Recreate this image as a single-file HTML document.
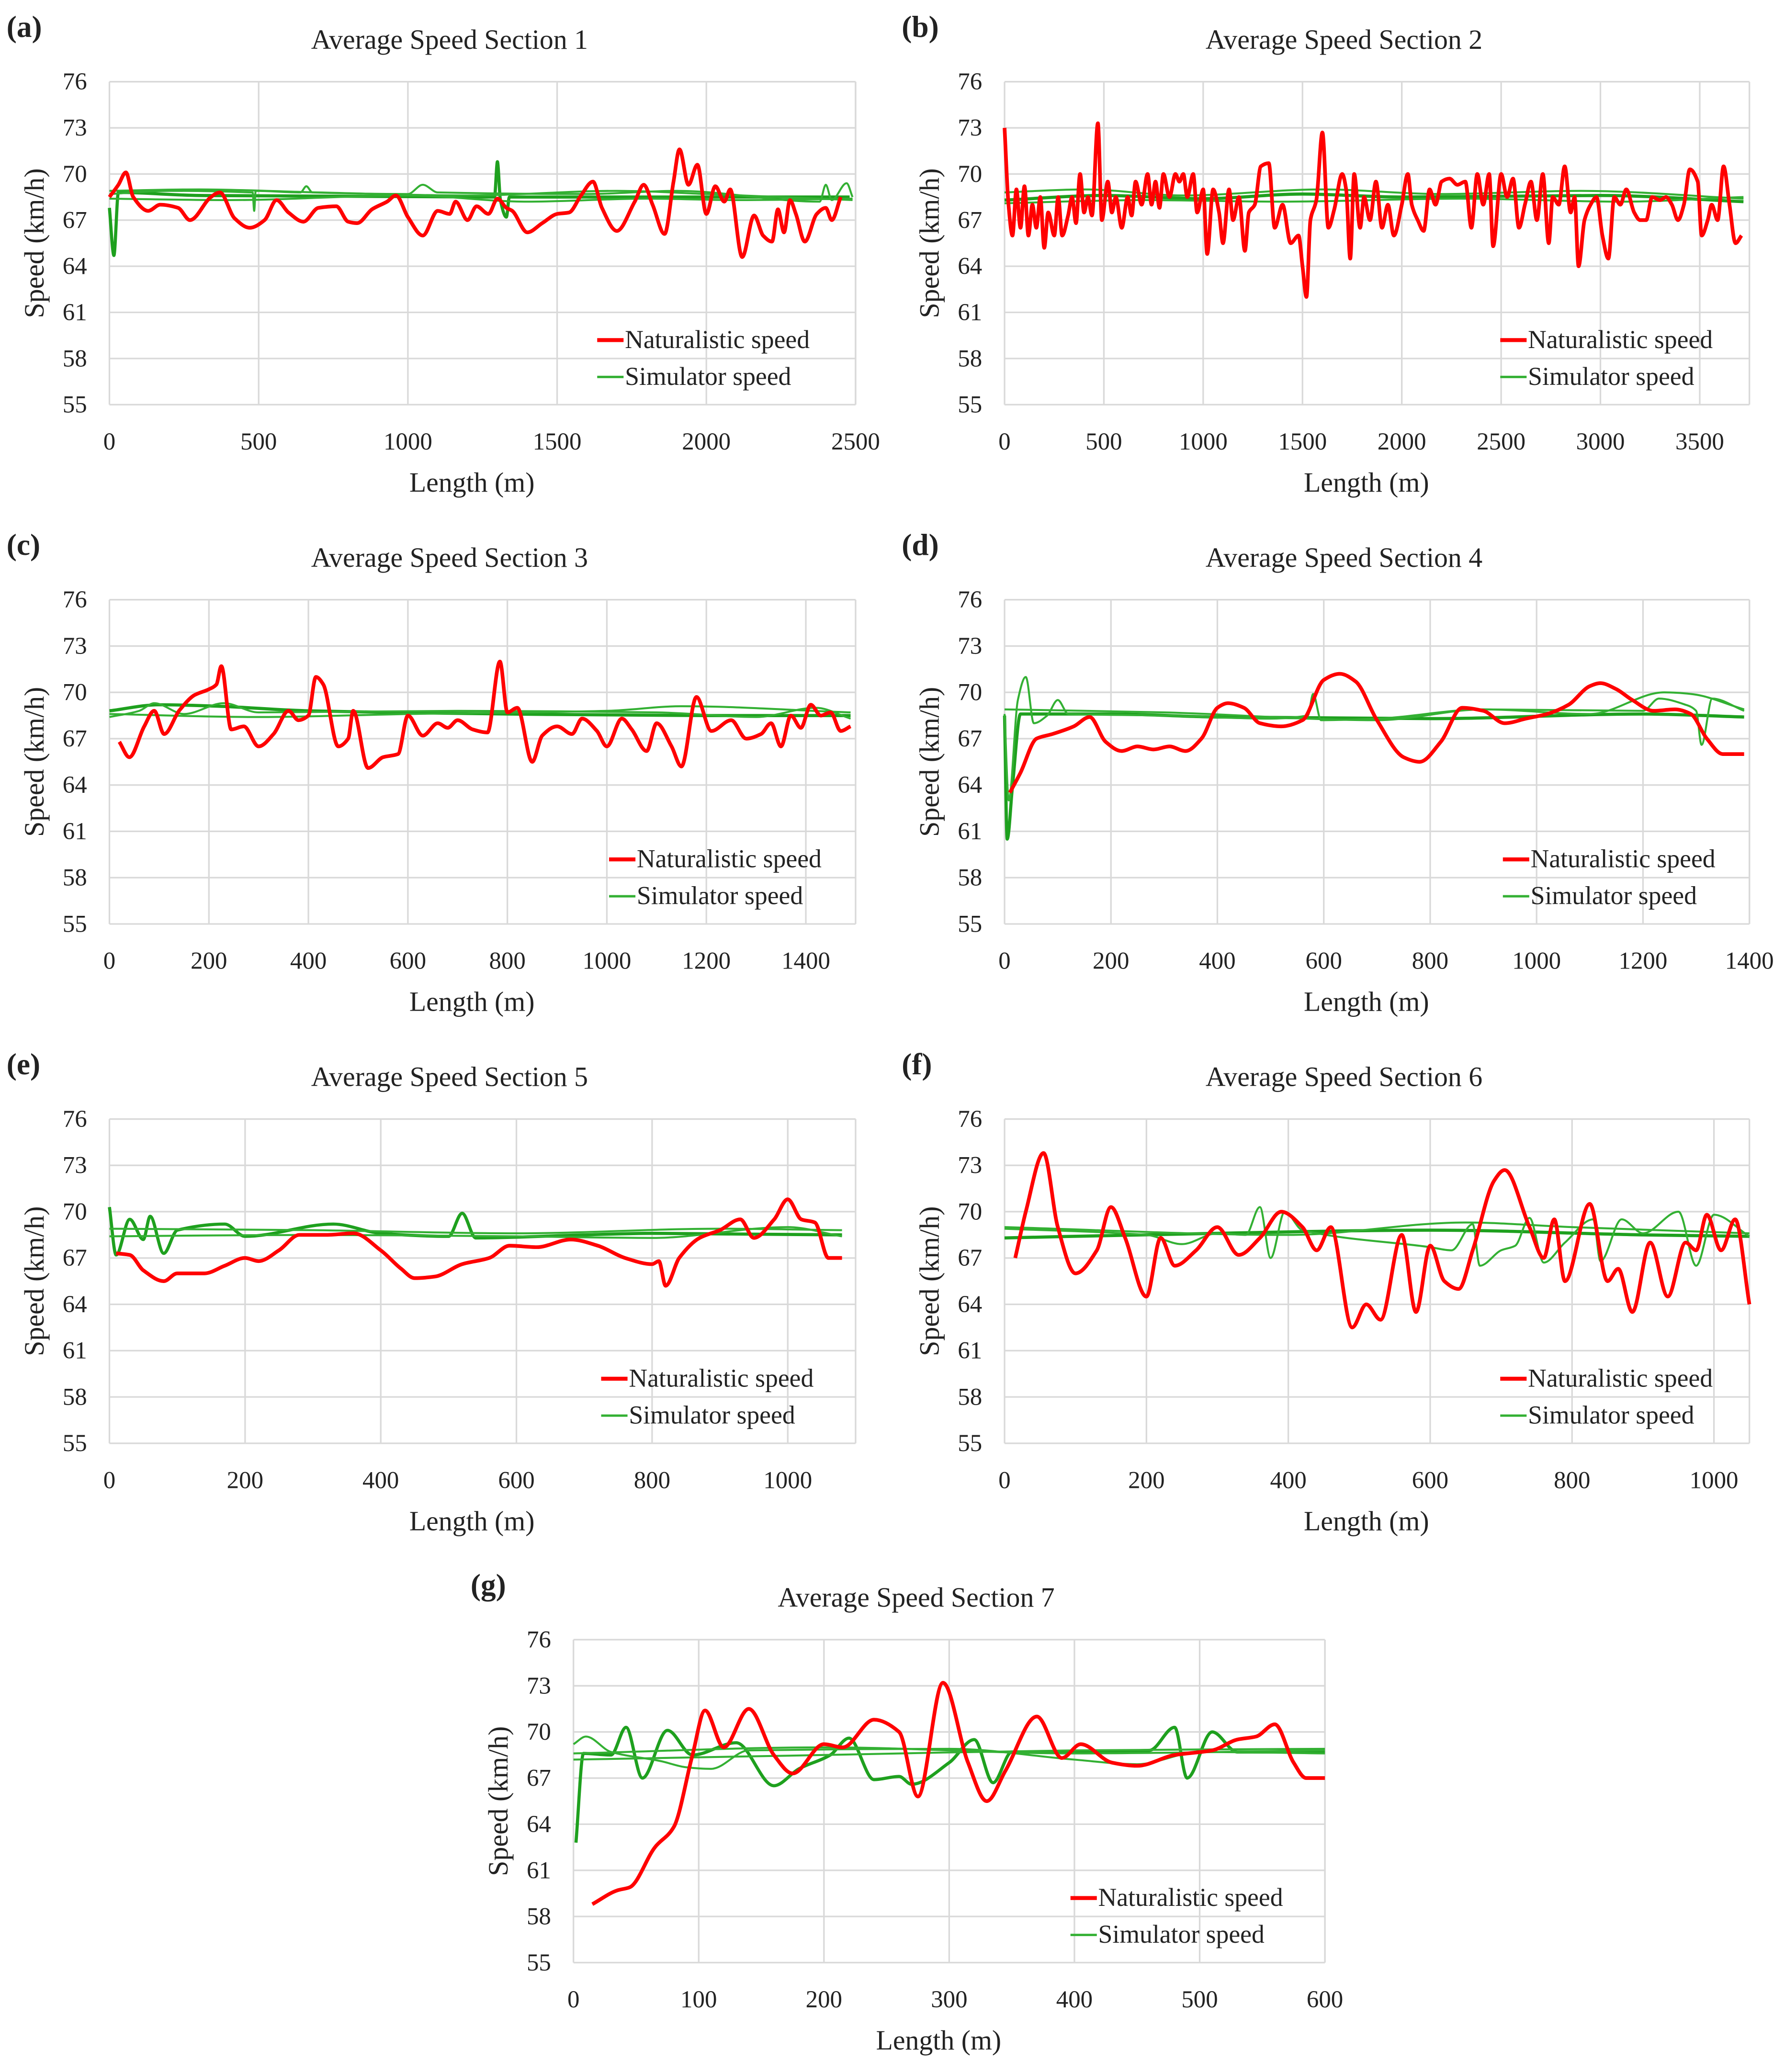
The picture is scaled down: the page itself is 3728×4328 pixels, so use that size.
<!DOCTYPE html>
<html><head><meta charset="utf-8"><style>
html,body{margin:0;padding:0;background:#fff;}
svg{display:block;}
text{font-family:"Liberation Serif",serif;fill:#222;}
</style></head><body>
<svg id="fig" width="3728" height="4328" viewBox="0 0 1354 1572" preserveAspectRatio="none"></svg>
<script>
// ---- data (x in m, y in km/h) ----
const yTicks=[55,58,61,64,67,70,73,76];
const ticksA=[0,500,1000,1500,2000,2500];
const ticksB=[0,500,1000,1500,2000,2500,3000,3500];
const ticksC=[0,200,400,600,800,1000,1200,1400];
const ticksD=[0,200,400,600,800,1000,1200,1400];
const ticksE=[0,200,400,600,800,1000];
const ticksF=[0,200,400,600,800,1000];
const ticksG=[0,100,200,300,400,500,600];

const natA=[[0,68.5],[30,69.3],[55,70.1],[80,68.5],[130,67.6],[170,68.0],[230,67.8],[270,67.0],[340,68.5],[370,68.8],[420,67.1],[470,66.5],[520,67.0],[560,68.3],[600,67.5],[650,66.9],[700,67.8],[760,67.9],[800,66.9],[830,66.8],[880,67.7],[930,68.2],[960,68.6],[1000,67.2],[1050,66.0],[1100,67.6],[1140,67.4],[1160,68.2],[1200,67.0],[1230,67.9],[1270,67.4],[1300,68.4],[1330,67.8],[1350,67.6],[1400,66.2],[1450,66.8],[1500,67.4],[1540,67.5],[1580,68.6],[1620,69.5],[1650,67.8],[1700,66.3],[1760,68.2],[1790,69.3],[1820,68.0],[1860,66.1],[1890,69.5],[1910,71.6],[1940,69.3],[1970,70.6],[2000,67.4],[2030,69.2],[2060,68.2],[2080,69.0],[2120,64.6],[2160,67.3],[2190,66.0],[2220,65.6],[2240,67.7],[2260,66.2],[2280,68.3],[2300,67.4],[2330,65.6],[2370,67.4],[2400,67.8],[2420,67.0],[2450,68.5]];
const simA1=[[0,67.8],[15,64.7],[30,68.8],[300,68.6],[1290,68.5],[1300,70.8],[1310,68.3],[1330,67.2],[1340,68.5],[2480,68.5]];
const simA2=[[0,68.7],[200,68.9],[480,68.8],[485,67.6],[490,68.9],[640,68.8],[660,69.2],[680,68.8],[1000,68.7],[1050,69.3],[1100,68.8],[1600,68.7],[1900,68.9],[2380,68.2],[2400,69.3],[2420,68.3],[2470,69.4],[2490,68.5]];
const simA3=[[0,68.4],[400,68.3],[1000,68.6],[1400,68.2],[1800,68.4],[2100,68.3],[2490,68.4]];
const simA4=[[0,68.9],[300,69.0],[700,68.8],[1200,68.6],[1700,68.9],[2000,68.7],[2490,68.3]];

const natB=[[0,73],[20,68],[40,66],[60,69],[80,66.5],[100,69.2],[120,66],[140,68],[160,66.5],[180,68.5],[200,65.2],[220,67.5],[250,66],[270,68.5],[290,66],[320,67.3],[340,68.5],[360,66.8],[380,70],[400,67.5],[420,68.5],[440,67.3],[470,73.3],[490,67],[520,69.5],[540,67.5],[560,68.5],[590,66.5],[620,68.5],[640,67.3],[660,69.5],[690,68],[720,70],[740,68],[760,69.5],[780,67.8],[800,70],[830,68.5],[860,70],[880,69.5],[900,70],[920,68.5],[950,70],[970,67.5],[1000,69],[1020,64.8],[1050,69],[1080,67.5],[1100,65.5],[1130,69],[1150,67],[1180,68.5],[1210,65],[1230,67.5],[1260,68],[1290,70.5],[1330,70.7],[1360,66.5],[1400,68],[1440,65.5],[1480,66],[1500,64],[1520,62],[1540,67],[1570,68.3],[1600,72.7],[1630,66.5],[1660,67.7],[1700,70],[1720,69],[1740,64.5],[1760,70],[1790,66.5],[1810,68.5],[1840,67],[1870,69.5],[1900,66.5],[1930,68],[1960,66],[2000,68],[2030,70],[2050,68],[2080,67],[2110,66.3],[2140,69],[2170,68],[2200,69.5],[2240,69.7],[2280,69.3],[2320,69.5],[2350,66.5],[2380,70],[2410,68],[2440,70],[2460,65.3],[2500,70],[2530,68.5],[2560,69.7],[2590,66.5],[2620,68],[2650,69.5],[2680,67],[2710,70],[2740,65.5],[2760,68.5],[2790,68],[2820,70.5],[2850,67.5],[2870,68.5],[2890,64],[2920,67],[2950,68],[2980,68.5],[3010,66],[3040,64.5],[3070,68.5],[3100,68],[3130,69],[3170,67.5],[3200,67],[3230,67],[3260,68.5],[3300,68.3],[3330,68.5],[3360,68],[3390,67],[3420,68],[3450,70.3],[3490,69.5],[3510,66],[3540,67],[3560,68],[3590,67],[3620,70.5],[3650,68],[3680,65.5],[3710,66]];
const simB1=[[0,68.3],[500,68.6],[1000,68.4],[1500,68.7],[2000,68.5],[3000,68.6],[3720,68.2]];
const simB2=[[0,68.8],[400,69.0],[900,68.6],[1600,69.0],[2200,68.7],[2900,68.9],[3720,68.4]];
const simB3=[[0,68.1],[700,68.3],[1400,68.2],[2300,68.4],[3100,68.2],[3720,68.5]];

const natC=[[20,66.8],[40,65.8],[70,67.8],[90,68.8],[110,67.3],[140,68.8],[170,69.8],[200,70.2],[215,70.5],[225,71.7],[245,67.6],[270,67.8],[300,66.5],[330,67.3],[360,68.8],[380,68.2],[400,68.5],[415,71],[430,70.5],[460,66.5],[480,67],[490,68.8],[520,65.1],[550,65.8],[580,66],[600,68.5],[630,67.2],[660,68],[680,67.7],[700,68.2],[730,67.6],[760,67.4],[785,72],[800,68.7],[820,69],[850,65.5],[870,67.2],[900,67.8],[930,67.3],[950,68.3],[980,67.5],[1000,66.5],[1030,68.3],[1050,67.6],[1080,66.2],[1100,68],[1130,66.5],[1150,65.2],[1180,69.7],[1210,67.5],[1250,68.2],[1280,67],[1310,67.3],[1330,68],[1350,66.5],[1370,68.5],[1390,67.7],[1410,69.2],[1430,68.5],[1450,68.7],[1470,67.5],[1490,67.8]];
const simC1=[[0,68.8],[100,69.2],[220,69.1],[400,68.8],[800,68.6],[1200,68.5],[1490,68.5]];
const simC2=[[0,68.4],[60,68.8],[90,69.3],[150,68.6],[230,69.3],[300,68.7],[700,68.8],[1100,68.7],[1300,68.4],[1420,69.0],[1490,68.3]];
const simC3=[[0,68.6],[300,68.4],[600,68.6],[1000,68.8],[1150,69.1],[1490,68.7]];

const natD=[[10,63.5],[30,64.8],[60,67],[90,67.3],[130,67.8],[160,68.4],[190,66.8],[220,66.2],[250,66.5],[280,66.3],[310,66.5],[340,66.2],[370,67],[400,69],[420,69.3],[450,69],[480,68],[520,67.8],[560,68.2],[600,70.8],[630,71.2],[660,70.7],[700,68.2],[750,65.8],[780,65.5],[820,66.8],[860,69],[900,68.8],[940,68],[980,68.3],[1020,68.6],[1060,69.2],[1100,70.4],[1120,70.6],[1150,70.2],[1180,69.5],[1220,68.8],[1260,68.9],[1290,68.6],[1320,67],[1350,66],[1390,66]];
const simD1=[[0,68.5],[5,60.5],[15,64],[30,68.6],[200,68.6],[400,68.4],[800,68.3],[1200,68.6],[1390,68.4]];
const simD2=[[0,68.6],[8,63],[25,69.5],[40,71],[55,68],[80,68.5],[100,69.5],[120,68.6],[300,68.5],[500,68.3],[570,68.5],[580,69.9],[595,68.2],[700,68.3],[900,68.9],[1200,68.8],[1230,69.6],[1280,69.2],[1300,68.8],[1310,66.6],[1330,69.6],[1390,68.8]];
const simD3=[[0,68.9],[300,68.7],[700,68.2],[900,68.9],[1100,68.6],[1240,70.0],[1290,69.9],[1390,68.9]];

const natE=[[10,67.3],[30,67.2],[50,66.2],[80,65.5],[100,66],[140,66],[170,66.5],[200,67],[220,66.8],[250,67.5],[280,68.5],[320,68.5],[360,68.6],[400,67.5],[430,66.3],[450,65.7],[480,65.8],[520,66.6],[560,67],[590,67.8],[630,67.7],[680,68.2],[720,67.8],[760,67],[800,66.6],[810,66.8],[820,65.2],[840,67],[870,68.3],[900,68.8],[930,69.5],[950,68.3],[980,69.5],[1000,70.8],[1020,69.5],[1040,69.3],[1060,67],[1080,67]];
const simE1=[[0,70.3],[10,67.2],[30,69.5],[50,68.2],[60,69.7],[80,67.3],[100,68.8],[170,69.2],[200,68.4],[330,69.2],[400,68.6],[500,68.4],[520,69.9],[540,68.3],[700,68.5],[800,68.6],[1080,68.5]];
const simE2=[[0,68.9],[300,68.8],[600,68.6],[900,68.9],[1080,68.8]];
const simE3=[[0,68.4],[300,68.5],[600,68.4],[800,68.3],[1000,69.0],[1080,68.4]];

const natF=[[15,67],[30,70],[55,73.8],[75,69],[100,66],[130,67.5],[150,70.3],[170,68.3],[200,64.5],[220,68.3],[240,66.5],[270,67.5],[300,69],[330,67.2],[360,68.3],[390,70],[420,69],[440,67.5],[460,69],[490,62.5],[510,64],[530,63],[560,68.5],[580,63.5],[600,67.8],[620,65.5],[640,65],[660,67.5],[690,72],[705,72.7],[740,69],[760,67],[775,69.5],[790,65.5],[825,70.5],[850,65.5],[865,66.3],[885,63.5],[910,68],[935,64.5],[960,68],[975,67.5],[990,69.8],[1010,67.5],[1030,69.5],[1050,64]];
const simF1=[[0,68.3],[300,68.6],[600,68.8],[900,68.5],[1050,68.4]];
const simF2=[[0,68.9],[200,68.5],[250,67.9],[300,68.6],[340,68.5],[360,70.3],[375,67],[395,70],[420,68.8],[600,67.7],[630,67.5],[660,69.2],[670,66.5],[700,67.5],[720,67.8],[740,69.6],[760,66.7],[790,68],[830,69.5],[840,66.8],[870,69.5],[900,68.6],[950,70],[975,66.5],[1000,69.8],[1050,68.4]];
const simF3=[[0,69.0],[400,68.5],[650,69.3],[800,69.0],[1050,68.6]];

const natG=[[15,58.8],[35,59.7],[45,59.9],[65,62.5],[80,63.8],[95,68.5],[105,71.4],[120,69],[140,71.5],[160,68.5],[175,67.3],[200,69.2],[215,69],[240,70.8],[260,70],[275,65.8],[295,73.2],[315,68],[330,65.5],[345,67.5],[370,71],[390,68.3],[405,69.2],[430,68],[450,67.8],[480,68.5],[510,68.8],[530,69.5],[545,69.7],[560,70.5],[575,68],[585,67],[600,67]];
const simG1=[[2,62.8],[8,68.6],[30,68.5],[42,70.3],[55,67],[75,70.1],[95,68.5],[130,69.3],[160,66.5],[180,67.6],[205,68.5],[220,69.6],[240,66.9],[260,67.1],[270,66.6],[300,68],[320,69.5],[335,66.7],[350,68.7],[390,68.7],[460,68.8],[480,70.3],[490,67],[510,70],[530,68.7],[600,68.7]];
const simG2=[[0,69.2],[10,69.7],[30,68.7],[70,68.1],[90,67.7],[110,67.6],[140,68.8],[300,68.9],[400,68.2],[450,67.9],[500,68.7],[600,68.6]];
const simG3=[[0,68.2],[200,68.5],[400,68.8],[600,68.9]];
const simG4=[[0,68.6],[200,69.0],[400,68.6],[600,68.8]];

const panels=[
 {id:'a',title:'Average Speed Section 1',xMax:2500,ticks:ticksA,L:83,R:649,T:62,B:307,nat:natA,sim:[simA1,simA2,simA3,simA4],lx:453},
 {id:'b',title:'Average Speed Section 2',xMax:3750,ticks:ticksB,L:762,R:1327,T:62,B:307,nat:natB,sim:[simB1,simB2,simB3],lx:1138},
 {id:'c',title:'Average Speed Section 3',xMax:1500,ticks:ticksC,L:83,R:649,T:455,B:701,nat:natC,sim:[simC1,simC2,simC3],lx:462},
 {id:'d',title:'Average Speed Section 4',xMax:1400,ticks:ticksD,L:762,R:1327,T:455,B:701,nat:natD,sim:[simD1,simD2,simD3],lx:1140},
 {id:'e',title:'Average Speed Section 5',xMax:1100,ticks:ticksE,L:83,R:649,T:849,B:1095,nat:natE,sim:[simE1,simE2,simE3],lx:456},
 {id:'f',title:'Average Speed Section 6',xMax:1050,ticks:ticksF,L:762,R:1327,T:849,B:1095,nat:natF,sim:[simF1,simF2,simF3],lx:1138},
 {id:'g',title:'Average Speed Section 7',xMax:600,ticks:ticksG,L:435,R:1005,T:1244,B:1489,nat:natG,sim:[simG1,simG2,simG3,simG4],lx:812}
];
const NS='http://www.w3.org/2000/svg';
const svg=document.getElementById('fig');
function mk(tag,attrs,parent){const e=document.createElementNS(NS,tag);for(const k in attrs)e.setAttribute(k,attrs[k]);(parent||svg).appendChild(e);return e;}
// x-monotone cubic smoothing (no loops)
function smooth(pts){
 const n=pts.length;
 const sec=[];for(let i=0;i<n-1;i++)sec.push((pts[i+1][1]-pts[i][1])/(pts[i+1][0]-pts[i][0]||1e-6));
 const m=[];for(let i=0;i<n;i++){
  if(i===0)m.push(sec[0]);else if(i===n-1)m.push(sec[n-2]);
  else{const a=sec[i-1],b=sec[i];m.push(a*b<=0?0:(2*a*b)/(a+b));}
 }
 let d='M'+pts[0][0].toFixed(1)+','+pts[0][1].toFixed(1);
 for(let i=0;i<n-1;i++){
  const dx=(pts[i+1][0]-pts[i][0])/3;
  d+='C'+(pts[i][0]+dx).toFixed(1)+','+(pts[i][1]+m[i]*dx).toFixed(1)+' '+(pts[i+1][0]-dx).toFixed(1)+','+(pts[i+1][1]-m[i+1]*dx).toFixed(1)+' '+pts[i+1][0].toFixed(1)+','+pts[i+1][1].toFixed(1);
 }
 return d;
}
panels.forEach(p=>{
 const g=mk('g',{});
 
 
 const xs=v=>p.L+(v/p.xMax)*(p.R-p.L);
 const ys=v=>p.B-(v-55)/21*(p.B-p.T);
 const cx=(p.L+p.R)/2;
 const lab=mk('text',{x:p.L-78,y:p.T-34,'font-size':23,'font-weight':'bold'},g);lab.textContent='('+p.id+')';
 
 const t=mk('text',{x:cx-25,y:p.T-25,'font-size':21,'text-anchor':'middle'},g);t.textContent=p.title;
 
 yTicks.forEach(v=>{
  const l=mk('line',{x1:p.L,x2:p.R,y1:ys(v),y2:ys(v),stroke:'#d9d9d9','stroke-width':1.2},g);
  
  const tt=mk('text',{x:p.L-17,y:ys(v)+6,'font-size':18.5,'text-anchor':'end'},g);tt.textContent=v;
  
 });
 p.ticks.forEach(v=>{
  const l=mk('line',{x1:xs(v),x2:xs(v),y1:p.T,y2:p.B,stroke:'#d9d9d9','stroke-width':1.2},g);
  
  const tt=mk('text',{x:xs(v),y:p.B+34,'font-size':18.5,'text-anchor':'middle'},g);tt.textContent=v;
  
 });
 const rl=mk('line',{x1:p.R,x2:p.R,y1:p.T,y2:p.B,stroke:'#d9d9d9','stroke-width':1.2},g);
 
 const xt=mk('text',{x:cx-8,y:p.B+66,'font-size':21,'text-anchor':'middle'},g);xt.textContent='Length (m)';
 
 const yy=(p.T+p.B)/2, yx=p.L-50;
 const yt=mk('text',{x:yx,y:yy,'font-size':21,'text-anchor':'middle',transform:'rotate(-90 '+yx+' '+yy+')'},g);yt.textContent='Speed (km/h)';
 
 p.sim.forEach((s,i)=>{
  const path=mk('path',{d:smooth(s.map(q=>[xs(q[0]),ys(q[1])])),fill:'none',stroke:i===0?'#1ea01e':'#33b033','stroke-width':i===0?2.4:1.5,'stroke-linejoin':'round'},g);
  
 });
 const np=mk('path',{d:smooth(p.nat.map(q=>[xs(q[0]),ys(q[1])])),fill:'none',stroke:'#ff0000','stroke-width':2.8,'stroke-linejoin':'round'},g);
 
 const ly=p.B-49;
 const lg=mk('g',{},g);
 
 mk('line',{x1:p.lx,x2:p.lx+20,y1:ly,y2:ly,stroke:'#ff0000','stroke-width':3},lg);
 const l1=mk('text',{x:p.lx+21,y:ly+6,'font-size':19.5},lg);l1.textContent='Naturalistic speed';
 
 mk('line',{x1:p.lx,x2:p.lx+20,y1:ly+28,y2:ly+28,stroke:'#33b033','stroke-width':1.8},lg);
 const l2=mk('text',{x:p.lx+21,y:ly+34,'font-size':19.5},lg);l2.textContent='Simulator speed';
 
});
</script>
</body></html>
